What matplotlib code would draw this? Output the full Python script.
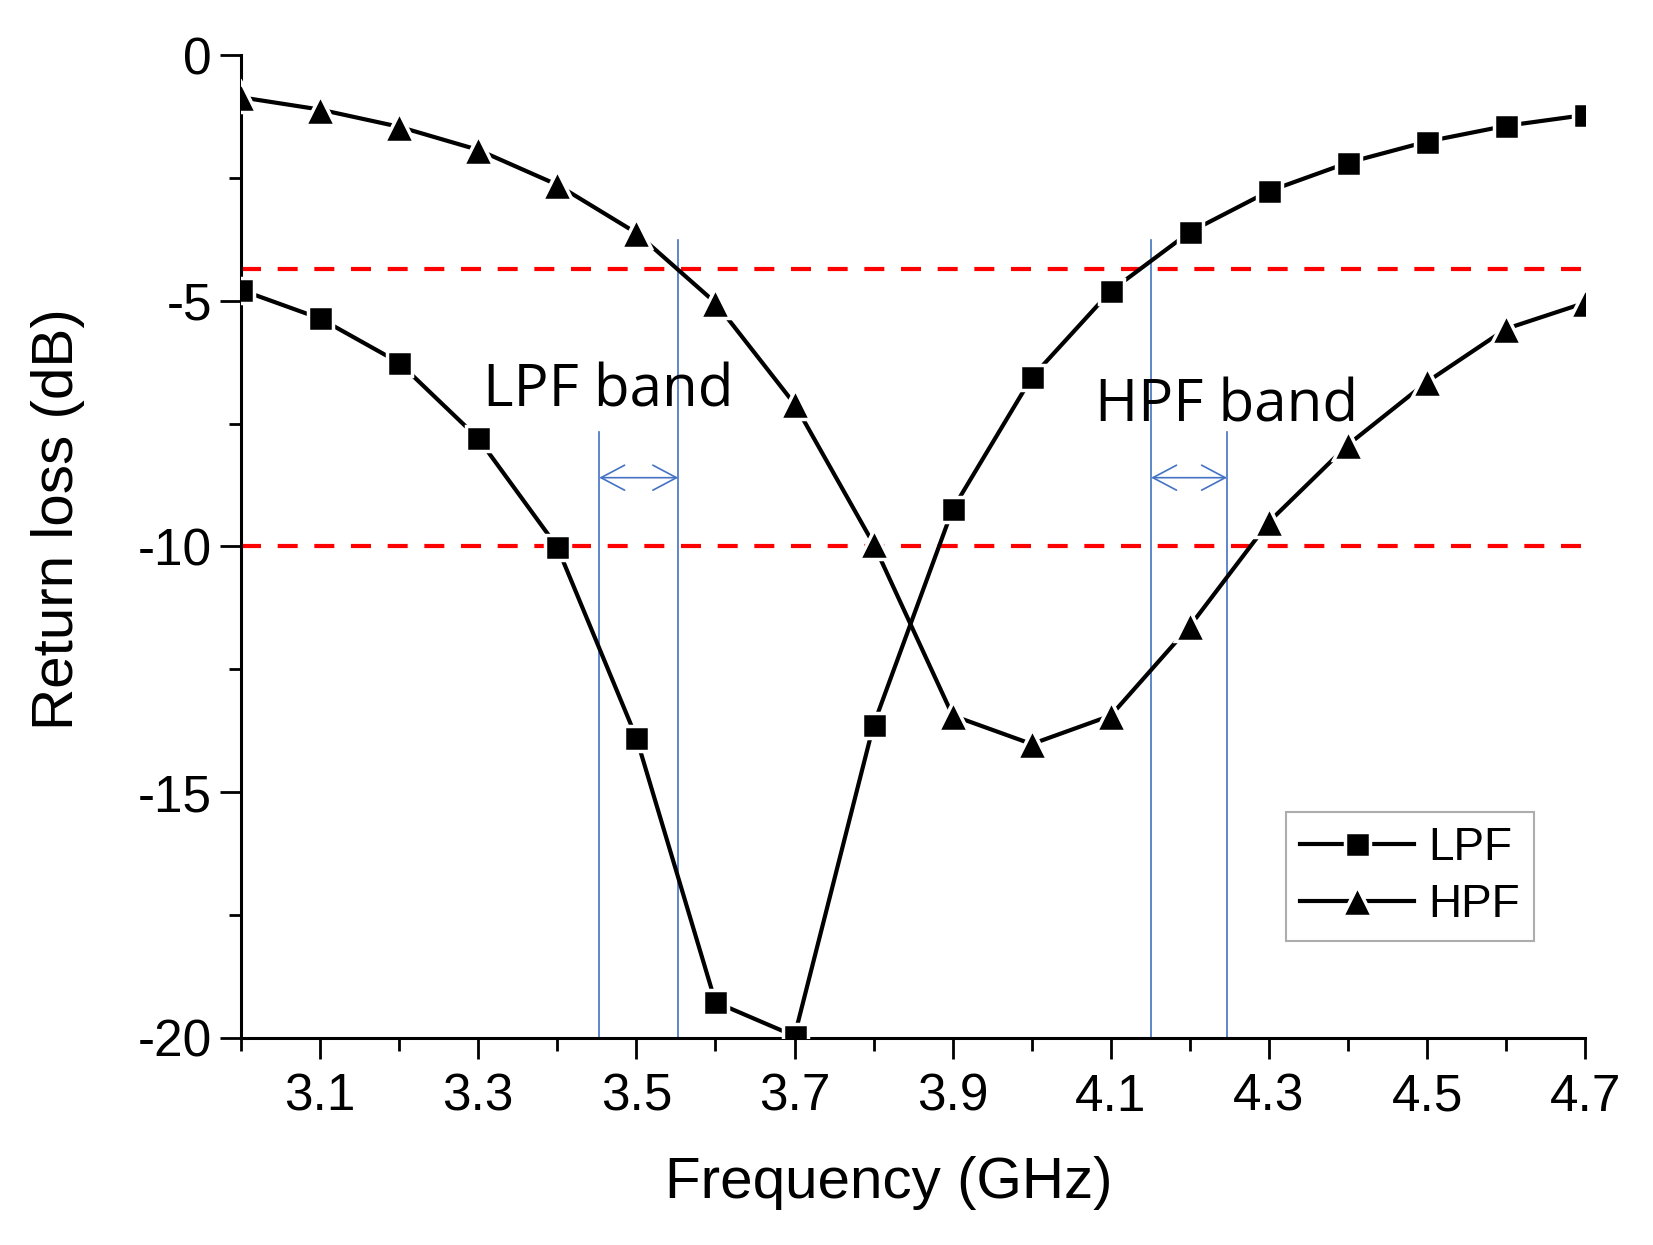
import numpy as np
import matplotlib.pyplot as plt
from matplotlib.ticker import MultipleLocator, FixedLocator

# 频率点 (GHz)
freq = [3.0, 3.1, 3.2, 3.3, 3.4, 3.5, 3.6, 3.7, 3.8, 3.9,
        4.0, 4.1, 4.2, 4.3, 4.4, 4.5, 4.6, 4.7]

# 回波损耗 (dB)
lpf_rl = [-4.78, -5.36, -6.26, -7.80, -10.01, -13.89, -19.27, -19.96, -13.63,
          -9.24, -6.56, -4.80, -3.60, -2.77, -2.19, -1.76, -1.44, -1.22]
hpf_rl = [-0.86, -1.11, -1.46, -1.93, -2.64, -3.62, -5.04, -7.10, -9.95,
          -13.44, -14.02, -13.44, -11.62, -9.50, -7.93, -6.65, -5.57, -5.04]

# 参考线与频带标注
ref_levels = [-4.35, -10.0]
lpf_band = [3.453, 3.553]
hpf_band = [4.151, 4.247]
band_tops = {"LPF": [-7.67, -3.77], "HPF": [-3.77, -7.67]}
arrow_level = -8.6

blue = '#4472C4'
plt.rcParams['font.family'] = ['Liberation Sans', 'DejaVu Sans']
plt.rcParams['axes.unicode_minus'] = False

fig = plt.figure(figsize=(16.53, 12.45), dpi=100)
ax = fig.add_axes([0.1458, 0.1663, 0.959 - 0.1458, 0.9558 - 0.1663])

for lvl in ref_levels:
    ax.axhline(lvl, color='red', lw=3, dashes=(4.8, 4.0), zorder=2)

for band, key in ((lpf_band, "LPF"), (hpf_band, "HPF")):
    for f, top in zip(band, band_tops[key]):
        ax.plot([f, f], [-20, top], color=blue, lw=1.2, zorder=1)
    ax.annotate('', xy=(band[1], arrow_level), xytext=(band[0], arrow_level),
                arrowprops=dict(arrowstyle='<->,head_length=0.85,head_width=0.45',
                                color=blue, lw=1.2, shrinkA=0, shrinkB=0,
                                mutation_scale=20))

ax.plot(freq, lpf_rl, color='black', lw=3, marker='s', ms=18,
        mfc='black', mec='white', mew=2.5, label='LPF', zorder=3)
ax.plot(freq, hpf_rl, color='black', lw=3, marker='^', ms=22,
        mfc='black', mec='white', mew=2.5, label='HPF', zorder=3)

ax.text(3.465, -6.84, 'LPF band', fontsize=42, family='Open Sans',
        ha='center', va='center')
ax.text(4.247, -7.14, 'HPF band', fontsize=42, family='Open Sans',
        ha='center', va='center')

ax.set_xlim(3.0, 4.7)
ax.set_ylim(-20, 0)
ax.xaxis.set_major_locator(FixedLocator(np.arange(3.1, 4.75, 0.2)))
ax.xaxis.set_minor_locator(FixedLocator(np.arange(3.0, 4.65, 0.2)))
ax.set_xticklabels(['3.1', '3.3', '3.5', '3.7', '3.9', '4.1', '4.3', '4.5', '4.7'])
ax.yaxis.set_major_locator(MultipleLocator(5))
ax.yaxis.set_minor_locator(MultipleLocator(2.5))

for s in ('top', 'right'):
    ax.spines[s].set_visible(False)
for s in ('left', 'bottom'):
    ax.spines[s].set_linewidth(2.2)

ax.tick_params(which='major', direction='out', length=15, width=2, labelsize=37)
ax.tick_params(which='minor', direction='out', length=9, width=2)
ax.tick_params(axis='x', which='major', pad=10)
ax.tick_params(axis='y', which='major', pad=6)

ax.set_xlabel('Frequency (GHz)', fontsize=42)
ax.set_ylabel('Return loss (dB)', fontsize=42)
ax.xaxis.set_label_coords(0.482, -0.1475)
ax.yaxis.set_label_coords(-0.136, 0.528)
ax.xaxis.label.set_va('center')
ax.yaxis.label.set_va('center')

leg = ax.legend(loc='upper left', bbox_to_anchor=(0.7775, 0.23), fontsize=33,
                fancybox=False, edgecolor='#999999', handlelength=2.5,
                numpoints=1, borderpad=0.3, handletextpad=0.3, labelspacing=0.3,
                borderaxespad=0)
leg.get_frame().set_linewidth(1.5)

fig.savefig('out.png', dpi=100)
